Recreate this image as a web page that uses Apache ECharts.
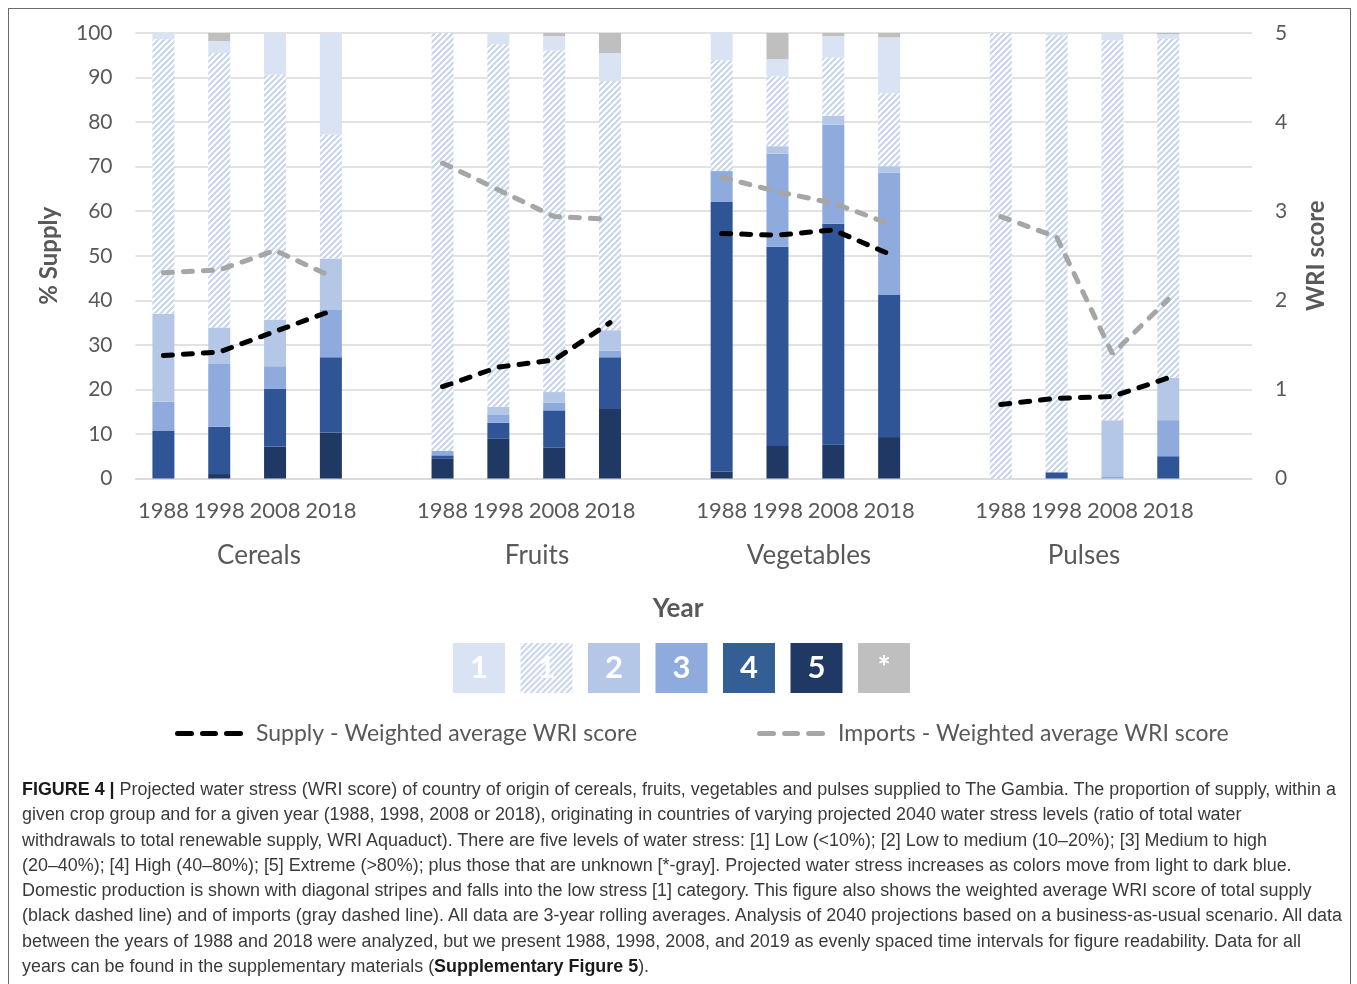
<!DOCTYPE html>
<html>
<head>
<meta charset="utf-8">
<script src="https://cdn.jsdelivr.net/npm/echarts@6/dist/echarts.min.js"></script>
<style>
  html, body { margin: 0; padding: 0; background: #fff; width: 1357px; height: 984px; overflow: hidden; }
  #frame { position: absolute; left: 8px; top: 8px; width: 1343px; height: 1000px; border: 1.5px solid #6a6a6a; box-sizing: border-box; }
  #chart { position: absolute; left: 0; top: 0; width: 1357px; height: 984px; }
  #caption { position: absolute; left: 22px; top: 777px; font-family: "Liberation Sans Narrow", "Liberation Sans", Roboto, sans-serif; font-size: 18px; line-height: 25.3px; color: #3a3a3a; }
  #caption div { white-space: nowrap; transform-origin: 0 0; }
  #caption b { color: #1a1a1a; }
</style>
</head>
<body>
<div id="chart"></div>
<div id="frame"></div>
<div id="caption">
  <div><b>FIGURE 4 |</b> Projected water stress (WRI score) of country of origin of cereals, fruits, vegetables and pulses supplied to The Gambia. The proportion of supply, within a</div>
  <div>given crop group and for a given year (1988, 1998, 2008 or 2018), originating in countries of varying projected 2040 water stress levels (ratio of total water</div>
  <div>withdrawals to total renewable supply, WRI Aquaduct). There are five levels of water stress: [1] Low (&lt;10%); [2] Low to medium (10–20%); [3] Medium to high</div>
  <div>(20–40%); [4] High (40–80%); [5] Extreme (&gt;80%); plus those that are unknown [*-gray]. Projected water stress increases as colors move from light to dark blue.</div>
  <div>Domestic production is shown with diagonal stripes and falls into the low stress [1] category. This figure also shows the weighted average WRI score of total supply</div>
  <div>(black dashed line) and of imports (gray dashed line). All data are 3-year rolling averages. Analysis of 2040 projections based on a business-as-usual scenario. All data</div>
  <div>between the years of 1988 and 2018 were analyzed, but we present 1988, 1998, 2008, and 2019 as evenly spaced time intervals for figure readability. Data for all</div>
  <div>years can be found in the supplementary materials (<b>Supplementary Figure 5</b>).</div>
</div>
<script>
// ---- Data (order: Cereals 1988..2018, Fruits, Vegetables, Pulses) ----
const groups = ['Cereals', 'Fruits', 'Vegetables', 'Pulses'];
const years = ['1988', '1998', '2008', '2018'];
const level5 =   [0, 1.0, 7.1, 10.3,   4.4, 8.9, 6.9, 15.6,   1.6, 7.3, 7.6, 9.3,    0, 0, 0, 0];
const level4 =   [10.8, 10.6, 13.0, 16.9, 0.8, 3.6, 8.4, 11.6, 60.6, 44.7, 49.6, 32.0, 0, 1.4, 0, 5.0];
const level3 =   [6.4, 14.1, 5.1, 10.6, 1.0, 1.9, 1.7, 1.5,   6.8, 20.9, 22.2, 27.4,  0, 0, 0.5, 8.1];
const level2 =   [19.8, 8.2, 10.5, 11.6, 0, 1.7, 2.4, 4.6,    0, 1.7, 2.0, 1.4,       0, 0, 12.6, 9.5];
const domestic1 = [61.6, 61.6, 55.0, 27.8, 93.8, 81.4, 76.7, 55.9, 24.9, 15.7, 13.1, 16.4, 100, 98.1, 85.3, 76.1];
const level1 =   [1.4, 2.7, 9.3, 22.8, 0, 2.5, 3.2, 6.3,      6.1, 3.8, 4.8, 12.5,    0, 0.5, 1.6, 1.0];
const unknown =  [0, 1.8, 0, 0,       0, 0, 0.7, 4.5,         0, 5.9, 0.7, 1.0,       0, 0, 0, 0.3];
const supplyWRI =  [1.38, 1.42, 1.65, 1.88, 1.03, 1.25, 1.33, 1.75, 2.75, 2.73, 2.79, 2.52, 0.83, 0.90, 0.92, 1.13];
const importsWRI = [2.31, 2.34, 2.56, 2.27, 3.54, 3.24, 2.94, 2.91, 3.38, 3.22, 3.09, 2.86, 2.94, 2.71, 1.40, 2.01];
const leftTicks = { min: 0, max: 100, interval: 10 };
const rightTicks = { min: 0, max: 5, interval: 1 };

// ---- Build 20-slot category layout (gap slot after each group) ----
function spread(arr) {
  const out = [];
  for (let g = 0; g < groups.length; g++) {
    for (let i = 0; i < years.length; i++) out.push(arr[g * 4 + i]);
    out.push(null);
  }
  return out;
}
const categories = [];
groups.forEach(() => { years.forEach(y => categories.push(y)); categories.push(''); });

// hatch pattern
function makeHatch(bg) {
  const c = document.createElement('canvas');
  c.width = 6; c.height = 6;
  const ctx = c.getContext('2d');
  if (bg) { ctx.fillStyle = bg; ctx.fillRect(0, 0, 6, 6); }
  ctx.strokeStyle = '#c6d4ec';
  ctx.lineWidth = 2;
  ctx.beginPath();
  ctx.moveTo(-1, 7); ctx.lineTo(7, -1);
  ctx.moveTo(-1, 1); ctx.lineTo(1, -1);
  ctx.moveTo(5, 7); ctx.lineTo(7, 5);
  ctx.stroke();
  return c;
}
const hatch = { image: makeHatch('#ffffff'), repeat: 'repeat' };

const colors = { l5: '#203864', l4: '#2f5597', l3: '#8faadc', l2: '#b4c7e7', l1: '#dae3f3', un: '#bfbfbf' };
const font = 'Lato, "Open Sans", sans-serif';
const txt = '#595959';
const dashIcon = 'path://M2.5,0H16.5A2.5,2.5,0,0,1,16.5,5H2.5A2.5,2.5,0,0,1,2.5,0Z' +
  'M27.5,0H40.5A2.5,2.5,0,0,1,40.5,5H27.5A2.5,2.5,0,0,1,27.5,0Z' +
  'M51.5,0H65.5A2.5,2.5,0,0,1,65.5,5H51.5A2.5,2.5,0,0,1,51.5,0Z';

function barSeries(name, data, color) {
  return { name, type: 'bar', stack: 'supply', data: spread(data), barWidth: 22,
    itemStyle: { color }, emphasis: { disabled: true } };
}

const chart = echarts.init(document.getElementById('chart'), null, { renderer: 'canvas' });

// legend squares
const legendBoxes = [
  { label: '1', fill: colors.l1 },
  { label: '1', fill: hatch },
  { label: '2', fill: colors.l2 },
  { label: '3', fill: colors.l3 },
  { label: '4', fill: '#335f95' },
  { label: '5', fill: colors.l5 },
  { label: '*', fill: colors.un }
];
const graphics = [];
legendBoxes.forEach((b, i) => {
  const x = 453 + i * 67.5;
  graphics.push({ type: 'rect', left: x, top: 643, shape: { width: 52, height: 50 }, style: { fill: b.fill } });
  graphics.push({ type: 'text', x: x + 26, y: 668, style: { text: b.label, fill: '#ffffff', font: 'bold 31px ' + font, textAlign: 'center', textVerticalAlign: 'middle' } });
});
const groupX = [259, 537, 809, 1084];
groups.forEach((g, i) => {
  graphics.push({ type: 'text', x: groupX[i], y: 556, style: { text: g, fill: txt, font: '26px ' + font, textAlign: 'center', textVerticalAlign: 'middle' } });
});
graphics.push({ type: 'text', x: 678, y: 609, style: { text: 'Year', fill: txt, font: 'bold 26px ' + font, textAlign: 'center', textVerticalAlign: 'middle' } });

const option = {
  animation: false,
  grid: { left: 135.5, right: 105, top: 33, bottom: 505.5, containLabel: false },
  xAxis: {
    type: 'category', data: categories,
    axisTick: { show: false },
    axisLine: { show: true, lineStyle: { color: '#d9d9d9', width: 1.5 } },
    axisLabel: { interval: 0, fontSize: 22, color: txt, fontFamily: font, margin: 21 }
  },
  yAxis: [
    { type: 'value', min: leftTicks.min, max: leftTicks.max, interval: leftTicks.interval,
      name: '% Supply', nameLocation: 'middle', nameGap: 74, nameRotate: 90,
      nameTextStyle: { fontSize: 24, fontWeight: 'bold', color: txt, fontFamily: font },
      axisLabel: { fontSize: 21, color: txt, fontFamily: font, margin: 23 },
      splitLine: { lineStyle: { color: '#d9d9d9', width: 1.5 } },
      axisLine: { show: false }, axisTick: { show: false } },
    { type: 'value', min: rightTicks.min, max: rightTicks.max, interval: rightTicks.interval,
      name: 'WRI score', nameLocation: 'middle', nameGap: 52, nameRotate: 90,
      nameTextStyle: { fontSize: 24, fontWeight: 'bold', color: txt, fontFamily: font },
      axisLabel: { fontSize: 21, color: txt, fontFamily: font, margin: 23 },
      splitLine: { show: false }, axisLine: { show: false }, axisTick: { show: false } }
  ],
  legend: {
    data: [
      { name: 'Supply - Weighted average WRI score', icon: dashIcon },
      { name: 'Imports - Weighted average WRI score', icon: dashIcon }
    ],
    left: 170, top: 717, itemWidth: 68, itemHeight: 5, itemGap: 120,
    textStyle: { fontSize: 23, color: txt, fontFamily: font, padding: [0, 0, 0, 8] },
    selectedMode: false
  },
  series: [
    barSeries('5', level5, colors.l5),
    barSeries('4', level4, colors.l4),
    barSeries('3', level3, colors.l3),
    barSeries('2', level2, colors.l2),
    barSeries('1 domestic', domestic1, hatch),
    barSeries('1', level1, colors.l1),
    barSeries('*', unknown, colors.un),
    { name: 'Supply - Weighted average WRI score', type: 'line', yAxisIndex: 1, data: spread(supplyWRI),
      symbol: 'none', connectNulls: false, z: 5,
      lineStyle: { color: '#000000', width: 5, type: [9, 11], cap: 'round' }, itemStyle: { color: '#000000' } },
    { name: 'Imports - Weighted average WRI score', type: 'line', yAxisIndex: 1, data: spread(importsWRI),
      symbol: 'none', connectNulls: false, z: 5,
      lineStyle: { color: '#a6a6a6', width: 5, type: [9, 11], cap: 'round' }, itemStyle: { color: '#a6a6a6' } }
  ],
  graphic: graphics
};
chart.setOption(option);

// fit caption lines to the reference width
(function () {
  const lines = document.querySelectorAll('#caption div');
  const w = lines[0].getBoundingClientRect().width;
  const s = 1320 / w;
  lines.forEach(l => { l.style.transform = 'scaleX(' + s + ')'; });
})();
</script>
</body>
</html>
